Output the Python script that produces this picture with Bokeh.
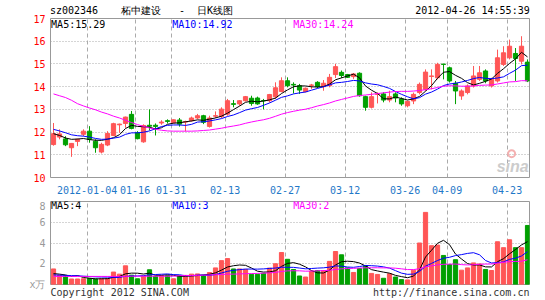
import numpy as np
import pandas as pd
from bokeh.plotting import figure
from bokeh.layouts import column
from bokeh.models import Range1d, FixedTicker, Label, ColumnDataSource, LinearAxis
from bokeh.embed import file_html
from bokeh.resources import INLINE

# ---- data ----
opens = [11.45, 11.78, 11.70, 11.31, 11.59, 11.90, 12.04, 11.60, 11.12, 11.43,
         11.85, 12.32, 12.38, 12.78, 11.97, 11.57, 12.30, 12.30, 12.40, 12.50,
         12.41, 12.53, 12.44, 12.50, 12.62, 12.72, 12.25, 12.70, 12.68, 12.79,
         13.25, 13.24, 13.38, 13.49, 13.50, 13.39, 13.38, 13.55, 13.79, 14.26,
         14.10, 14.04, 13.78, 14.06, 14.19, 14.00, 14.04, 14.53, 14.63, 14.53,
         14.44, 14.59, 13.56, 13.09, 13.66, 13.68, 13.41, 13.68, 13.46, 13.16,
         13.37, 13.74, 13.88, 14.45, 14.39, 14.99, 14.83, 14.15, 13.59, 13.74,
         14.03, 14.32, 14.69, 14.03, 14.25, 14.98, 15.27, 15.46, 15.12, 15.08]
highs = [12.40, 12.12, 11.82, 11.52, 11.71, 12.12, 12.26, 11.68, 11.53, 12.04,
         12.41, 12.37, 12.68, 12.93, 12.04, 12.34, 13.00, 12.38, 12.52, 12.56,
         12.56, 12.62, 12.50, 12.68, 12.80, 12.76, 12.72, 12.91, 13.09, 13.46,
         13.41, 13.41, 13.59, 13.60, 13.56, 13.46, 13.68, 14.19, 14.41, 14.41,
         14.19, 14.12, 13.96, 14.12, 14.24, 14.29, 14.56, 15.00, 14.71, 14.56,
         14.59, 14.63, 13.60, 13.75, 13.75, 13.75, 13.82, 13.75, 13.53, 13.38,
         13.74, 14.18, 14.76, 14.76, 15.05, 15.00, 14.88, 14.25, 13.88, 14.10,
         14.91, 14.91, 14.76, 14.39, 15.63, 15.78, 16.07, 15.70, 16.22, 15.20]
lows = [11.40, 11.68, 11.38, 10.91, 11.38, 11.82, 11.53, 11.09, 11.06, 11.38,
        11.82, 11.97, 12.19, 12.12, 11.68, 11.53, 12.07, 11.85, 12.32, 12.38,
        12.38, 12.24, 12.03, 12.46, 12.57, 12.35, 12.20, 12.62, 12.62, 12.72,
        13.09, 13.16, 13.35, 13.16, 13.20, 13.00, 13.30, 13.46, 13.75, 13.97,
        13.70, 13.68, 13.75, 13.90, 13.94, 13.82, 13.97, 14.38, 14.38, 14.38,
        14.34, 13.56, 12.94, 13.04, 13.26, 13.31, 13.31, 13.31, 13.16, 13.09,
        13.23, 13.66, 13.81, 13.88, 14.32, 14.32, 14.18, 13.23, 13.42, 13.66,
        13.96, 14.25, 14.15, 13.96, 14.18, 14.91, 15.20, 14.25, 14.98, 14.20]
closes = [11.93, 11.92, 11.44, 11.50, 11.68, 12.04, 11.68, 11.31, 11.46, 11.94,
          12.37, 12.35, 12.66, 12.16, 11.71, 12.29, 12.26, 12.25, 12.44, 12.47,
          12.54, 12.35, 12.46, 12.62, 12.72, 12.43, 12.62, 12.72, 13.01, 13.38,
          13.22, 13.38, 13.56, 13.26, 13.24, 13.38, 13.65, 13.95, 14.26, 14.04,
          14.07, 13.85, 13.93, 14.07, 14.00, 14.15, 14.41, 14.88, 14.49, 14.41,
          14.56, 13.60, 13.09, 13.56, 13.68, 13.41, 13.56, 13.50, 13.24, 13.35,
          13.66, 14.10, 14.64, 14.47, 14.98, 14.98, 14.25, 13.81, 13.81, 14.03,
          14.47, 14.61, 14.25, 14.32, 15.27, 15.49, 15.78, 15.24, 15.78, 14.25]
volumes = [1.50, 0.90, 0.85, 0.53, 0.53, 0.55, 0.58, 0.53, 0.56, 0.58,
           1.20, 1.00, 1.80, 0.90, 0.55, 0.80, 1.42, 0.80, 0.85, 0.85,
           0.55, 0.85, 0.88, 1.00, 1.02, 0.87, 1.15, 1.60, 2.30, 2.50,
           1.50, 1.50, 1.45, 0.98, 0.98, 1.08, 1.58, 2.00, 3.08, 2.43,
           1.45, 0.82, 0.72, 1.29, 1.35, 1.35, 2.23, 3.18, 2.86, 1.60,
           1.16, 1.54, 1.79, 1.07, 0.97, 0.60, 1.04, 0.72, 0.47, 0.44,
           1.38, 4.00, 6.95, 3.74, 3.80, 2.80, 1.92, 2.39, 1.38, 1.60,
           2.08, 1.98, 1.45, 1.35, 4.12, 3.55, 4.31, 3.55, 3.55, 5.69]

# moving-average values before a full window exists inside the shown range (read)
ma5_head = [11.93, 11.85, 11.74, 11.68]
ma10_head = [12.12, 12.05, 11.97, 11.88, 11.84, 11.82, 11.78, 11.72, 11.68]
ma30_head = [13.68, 13.60, 13.52, 13.40, 13.25, 13.15, 13.06, 12.98, 12.88, 12.80,
             12.70, 12.62, 12.52, 12.42, 12.33, 12.25, 12.18, 12.12, 12.08, 12.05,
             12.04, 12.04, 12.04, 12.04, 12.05, 12.07, 12.09, 12.13, 12.17]
vma5_head = [1.05, 1.00, 0.92, 0.78]
vma10_head = [0.93, 0.90, 0.88, 0.86, 0.84, 0.80, 0.77, 0.74, 0.72]
vma30_head = [0.78, 0.78, 0.78, 0.78, 0.78, 0.78, 0.78, 0.78, 0.78, 0.78,
              0.78, 0.78, 0.78, 0.80, 0.80, 0.80, 0.80, 0.80, 0.80, 0.80,
              0.80, 0.85, 0.86, 0.87, 0.88, 0.90, 0.92, 0.94, 0.96]

tick_index = [6, 14, 20, 29, 39, 49, 59, 66, 76]
tick_labels = ["2012-01-04", "01-16", "01-31", "02-13", "02-27",
               "03-12", "03-26", "04-09", "04-23"]
price_ticks = [10, 11, 12, 13, 14, 15, 16, 17]
vol_ticks = [0, 2, 4, 6, 8]
vol_tick_labels = ["x万", "2", "4", "6", "8"]

NB = "\u00a0"
header_texts = ["sz002346", "柘中建设" + NB * 3 + "-" + NB * 2 + "日K线图",
                "2012-04-26 14:55:39"]
footer_texts = ["Copyright 2012 SINA.COM", "http://finance.sina.com.cn"]
ma_texts = ["MA5:15.29", "MA10:14.92", "MA30:14.24"]
vma_texts = ["MA5:4", "MA10:3", "MA30:2"]

# ---- styles / placement ----
RED = "#ff5656"
GREEN = "#00a000"
MA_COLORS = ["#000000", "#0000ff", "#ff00ff"]
GRID = "#aaaaaa"
MONO = "DejaVu Sans Mono"
header_pos = [3.82, 20.98, 70.23]
footer_pos = [11.43, 66.68]
ma_text_pos = [0.0, 20.2, 40.35]


def trailing(values, win, head):
    s = pd.Series(values, dtype=float).rolling(win).mean().to_numpy()
    s[:len(head)] = head
    return s


n = len(closes)
cx = np.arange(n) + 0.4
o = np.array(opens)
c = np.array(closes)
up = c >= o
colors = np.where(up, RED, GREEN)
src = ColumnDataSource(dict(
    x=cx, high=highs, low=lows,
    top=np.maximum(o, c), bottom=np.minimum(o, c),
    color=colors, vol=volumes))

ma_price = [trailing(closes, 5, ma5_head), trailing(closes, 10, ma10_head),
            trailing(closes, 30, ma30_head)]
ma_vol = [trailing(volumes, 5, vma5_head), trailing(volumes, 10, vma10_head),
          trailing(volumes, 30, vma30_head)]

X0, X1 = -0.1, 79.73


def plain_axis(ax, color, standoff, size="10px"):
    ax.axis_line_color = None
    ax.major_tick_line_color = None
    ax.minor_tick_line_color = None
    ax.major_tick_out = 0
    ax.major_tick_in = 0
    ax.minor_tick_out = 0
    ax.minor_tick_in = 0
    ax.major_label_standoff = standoff
    ax.major_label_text_font = MONO
    ax.major_label_text_font_size = size
    ax.major_label_text_color = color


def style(p, label_color):
    p.outline_line_color = "#999999"
    p.background_fill_color = "white"
    p.border_fill_color = "white"
    for ax in p.yaxis:
        plain_axis(ax, label_color, 5)
    p.xgrid.ticker = FixedTicker(ticks=tick_index)
    p.xgrid.grid_line_color = GRID
    p.xgrid.grid_line_dash = "4 3"
    p.ygrid.grid_line_color = GRID
    p.ygrid.grid_line_dash = "1 2"


# ---- price panel ----
p = figure(width=545, height=200, output_backend="svg", toolbar_location=None,
           x_range=Range1d(X0, X1), y_range=Range1d(10, 17),
           min_border_left=50, min_border_right=16, min_border_top=18,
           min_border_bottom=23, title=None)
style(p, "#ff0000")
p.yaxis.ticker = FixedTicker(ticks=price_ticks)
p.ygrid.ticker = FixedTicker(ticks=price_ticks[1:-1])
xa = p.xaxis[0]
xa.ticker = FixedTicker(ticks=tick_index)
xa.major_label_overrides = {i: s for i, s in zip(tick_index, tick_labels)}
plain_axis(xa, "#1f78c8", 8)

# header line (code, chart name, time) as a top axis
top_ax = LinearAxis(ticker=FixedTicker(ticks=header_pos),
                    major_label_overrides={k: s for k, s in zip(header_pos, header_texts)})
plain_axis(top_ax, "#000000", 3)
p.add_layout(top_ax, "above")

p.segment(x0="x", y0="low", x1="x", y1="high", line_color="color",
          line_width=1, source=src)
p.vbar(x="x", width=0.7, top="top", bottom="bottom", fill_color="color",
       line_color="color", line_width=1, source=src)
for ma, col in zip(ma_price, MA_COLORS):
    p.line(cx, ma, line_color=col, line_width=1)

# watermark
p.scatter([76.75], [11.05], marker="circle", size=7, fill_color=None,
          line_color="#f4b0b0", line_width=2)
p.add_layout(Label(x=79.6, y=10.47, text="sina", text_align="right",
                   text_baseline="middle", text_font="Liberation Sans",
                   text_font_size="16px", text_font_style="bold italic",
                   text_color="#cccccc"))

for txt, xpos, col in zip(ma_texts, ma_text_pos, MA_COLORS):
    p.add_layout(Label(x=xpos, y=16.74, text=txt, text_align="left",
                       text_baseline="middle", text_font=MONO,
                       text_font_size="10px", text_color=col))

# ---- volume panel ----
v = figure(width=545, height=100, output_backend="svg", toolbar_location=None,
           x_range=p.x_range, y_range=Range1d(0, 8), x_axis_location=None,
           min_border_left=50, min_border_right=16, min_border_top=1,
           min_border_bottom=15, title=None)
style(v, "#999999")
v.yaxis.ticker = FixedTicker(ticks=vol_ticks)
v.yaxis.major_label_overrides = {t: s for t, s in zip(vol_ticks, vol_tick_labels)}
v.ygrid.ticker = FixedTicker(ticks=vol_ticks[1:-1])

bot_ax = LinearAxis(ticker=FixedTicker(ticks=footer_pos),
                    major_label_overrides={k: s for k, s in zip(footer_pos, footer_texts)})
plain_axis(bot_ax, "#333333", 2)
v.add_layout(bot_ax, "below")

v.vbar(x="x", width=0.7, top="vol", bottom=0, fill_color="color",
       line_color="color", line_width=1, source=src)
for ma, col in zip(ma_vol, MA_COLORS):
    v.line(cx, ma, line_color=col, line_width=1)
for txt, xpos, col in zip(vma_texts, ma_text_pos, MA_COLORS):
    v.add_layout(Label(x=xpos, y=7.62, text=txt, text_align="left",
                       text_baseline="middle", text_font=MONO,
                       text_font_size="10px", text_color=col))

layout = column(p, v, spacing=0)
open("out.html", "w").write(file_html(layout, INLINE))
